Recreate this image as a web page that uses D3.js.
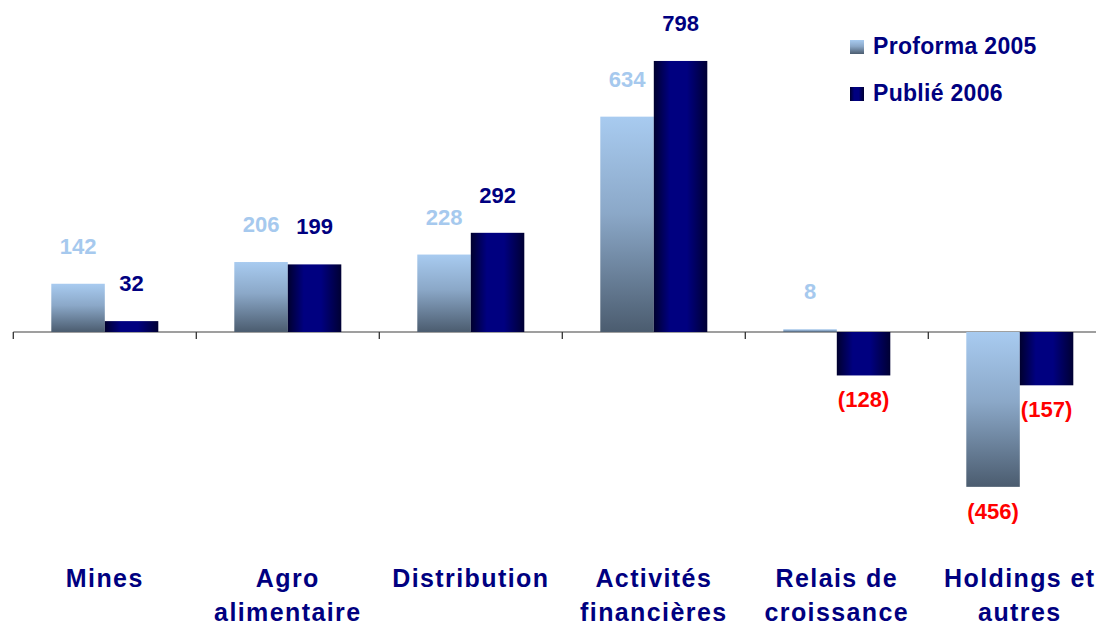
<!DOCTYPE html>
<html>
<head>
<meta charset="utf-8">
<script src="https://cdn.jsdelivr.net/npm/d3@7"></script>
<style>
  html, body { margin: 0; padding: 0; background: #ffffff; }
  svg { display: block; }
  text { font-family: "Liberation Sans", Arial, sans-serif; font-weight: bold; }
</style>
</head>
<body>
<svg id="chart" width="1096" height="626"></svg>
<script>
const categories = [
  ["Mines"],
  ["Agro", "alimentaire"],
  ["Distribution"],
  ["Activités", "financières"],
  ["Relais de", "croissance"],
  ["Holdings et", "autres"]
];
const seriesNames = ["Proforma 2005", "Publié 2006"];
const proforma2005 = [142, 206, 228, 634, 8, -456];
const publie2006 = [32, 199, 292, 798, -128, -157];

const W = 1096, H = 626;
const svg = d3.select("#chart");
const defs = svg.append("defs");

const gLight = defs.append("linearGradient").attr("id", "gLight")
  .attr("x1", 0).attr("y1", 0).attr("x2", 0).attr("y2", 1);
gLight.append("stop").attr("offset", "0%").attr("stop-color", "#a8cbf0");
gLight.append("stop").attr("offset", "45%").attr("stop-color", "#8ba8c8");
gLight.append("stop").attr("offset", "100%").attr("stop-color", "#4b5c6f");

const gDark = defs.append("linearGradient").attr("id", "gDark")
  .attr("x1", 0).attr("y1", 0).attr("x2", 1).attr("y2", 0);
gDark.append("stop").attr("offset", "0%").attr("stop-color", "#00002e");
gDark.append("stop").attr("offset", "30%").attr("stop-color", "#000080");
gDark.append("stop").attr("offset", "62%").attr("stop-color", "#000080");
gDark.append("stop").attr("offset", "100%").attr("stop-color", "#000033");

const catKeys = categories.map(c => c.join(" "));
const x0 = d3.scaleBand().domain(catKeys).range([13.3, 13.3 + 6 * 183]).padding(0);
const x1 = d3.scaleBand().domain(seriesNames).range([38, 145]).padding(0);
const y = d3.scaleLinear().domain([-500, 850]).range([501.8, 43.3]);

const data = catKeys.map((k, i) => ({
  key: k,
  values: [
    { s: seriesNames[0], v: proforma2005[i] },
    { s: seriesNames[1], v: publie2006[i] }
  ]
}));

// axis line with ticks at category boundaries
const zeroY = y(0);
svg.append("line")
  .attr("x1", x0.range()[0]).attr("x2", W)
  .attr("y1", zeroY).attr("y2", zeroY)
  .attr("stroke", "#7f7f7f").attr("stroke-width", 1.3);
d3.range(catKeys.length + 1).forEach(i => {
  const tx = x0.range()[0] + i * x0.step();
  svg.append("line")
    .attr("x1", tx).attr("x2", tx)
    .attr("y1", zeroY).attr("y2", zeroY + 7)
    .attr("stroke", "#333333").attr("stroke-width", 1.3);
});

const groups = svg.selectAll("g.cat").data(data).enter().append("g")
  .attr("class", "cat")
  .attr("transform", d => `translate(${x0(d.key)},0)`);

groups.selectAll("rect").data(d => d.values).enter().append("rect")
  .attr("x", d => x1(d.s))
  .attr("width", x1.bandwidth())
  .attr("y", d => Math.min(y(d.v), y(0)))
  .attr("height", d => Math.abs(y(d.v) - y(0)))
  .attr("fill", d => d.s === seriesNames[0] ? "url(#gLight)" : "url(#gDark)");

groups.selectAll("text.val").data(d => d.values).enter().append("text")
  .attr("class", "val")
  .attr("x", d => x1(d.s) + x1.bandwidth() / 2)
  .attr("y", d => d.v >= 0 ? y(d.v) - 30 : y(d.v) + 32)
  .attr("text-anchor", "middle")
  .attr("font-size", "22px")
  .attr("fill", d => d.v < 0 ? "#ff0000" : (d.s === seriesNames[0] ? "#a6c9ee" : "#000080"))
  .text(d => d.v < 0 ? `(${Math.abs(d.v)})` : d.v);

// category labels
const catLabels = svg.selectAll("text.cat").data(categories).enter().append("text")
  .attr("class", "cat")
  .attr("text-anchor", "middle")
  .attr("font-size", "25px")
  .attr("letter-spacing", "1.4px")
  .attr("fill", "#000080");
catLabels.each(function(lines, i) {
  const cx = x0(catKeys[i]) + x0.bandwidth() / 2;
  d3.select(this).selectAll("tspan").data(lines).enter().append("tspan")
    .attr("x", cx)
    .attr("y", (l, j) => 587 + j * 34)
    .text(l => l);
});

// legend
const legend = svg.append("g").attr("transform", "translate(850,40)");
seriesNames.forEach((s, i) => {
  const g = legend.append("g").attr("transform", `translate(0,${i * 47})`);
  g.append("rect").attr("x", 0).attr("y", 0).attr("width", 14).attr("height", 14)
    .attr("fill", i === 0 ? "url(#gLight)" : "url(#gDark)");
  g.append("text").attr("x", 23).attr("y", 13.5)
    .attr("font-size", "23px").attr("letter-spacing", "0.3px")
    .attr("fill", "#000080").text(s);
});
</script>
</body>
</html>
